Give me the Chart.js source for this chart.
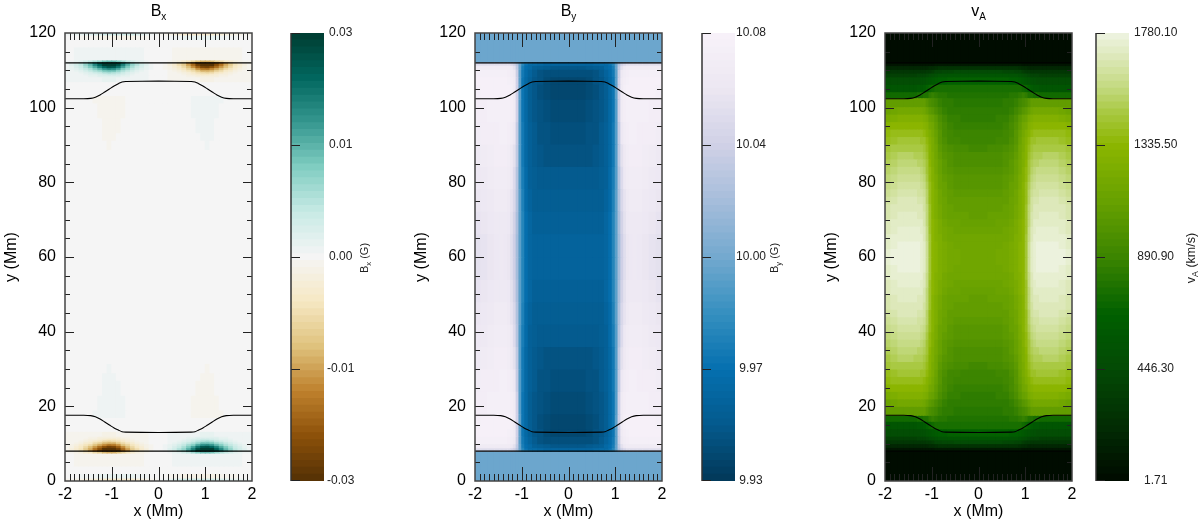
<!DOCTYPE html>
<html><head><meta charset="utf-8">
<script src="https://cdn.jsdelivr.net/npm/chart.js@4"></script>
<style>html,body{margin:0;padding:0;background:#fff;width:1200px;height:524px;overflow:hidden}canvas{position:absolute;top:0}</style>
</head><body>
<canvas id="h1" width="270" height="524" style="left:0"></canvas>
<canvas id="c1" width="110" height="524" style="left:280px"></canvas>
<canvas id="h2" width="270" height="524" style="left:410px"></canvas>
<canvas id="c2" width="110" height="524" style="left:691px"></canvas>
<canvas id="h3" width="270" height="524" style="left:820px"></canvas>
<canvas id="c3" width="115" height="524" style="left:1085px"></canvas>
<script>
// ---- contours (Mm)
const contourX=[-2,-1.6,-1.45,-1.35,-1.25,-1.15,-1.05,-.95,-.85,-.78,-.7,0,.7,.78,.85,.95,1.05,1.15,1.25,1.35,1.45,1.6,2];
const contourTop=[102.4,102.4,102.5,102.8,103.4,104.2,105,105.8,106.5,106.9,107,107.1,107,106.9,106.5,105.8,105,104.2,103.4,102.8,102.5,102.4,102.4];
const contourBottom=[17.6,17.6,17.5,17.2,16.6,15.8,15,14.2,13.6,13.2,13.1,13,13.1,13.2,13.6,14.2,15,15.8,16.6,17.2,17.5,17.6,17.6];
const boundaryX=[-2,2];
const boundaryTop=[112,112];
const boundaryBottom=[8,8];
// ---- axis ticks
const xMajor=[-2,-1,0,1,2];
const yMajor=[0,20,40,60,80,100,120];
// ---- Bx (G): upper-left quadrant, read column by column from x=0 outward, row by row from y=60 upward
const bxColumns=[.05,.15,.25,.35,.45,.55,.65,.75,.85,.95,1.05,1.15,1.25,1.35,1.45,1.55,1.65,1.75,1.85,1.95];
const bxRowEdges=[60,88.5,91,93,97,101,103,106.7,108,108.5,109,109.5,110,110.5,111,111.5,112,112.5,116,118,119.2,120];
const bxRows=[
[0,0,0,0,0,0,0,0,0,0,0,0,0,0,0,0,0,0,0,0],
[0,0,0,0,0,0,0,0,0,0,-.0006,0,0,0,0,0,0,0,0,0],
[0,0,0,0,0,0,0,0,0,-.0008,-.0008,-.0008,0,0,0,0,0,0,0,0],
[0,0,0,0,0,0,0,0,-.0008,-.0008,-.0008,-.0008,0,0,0,0,0,0,0,0],
[0,0,0,0,0,0,0,-.0008,-.0008,-.0008,-.0008,-.0008,-.0008,0,0,0,0,0,0,0],
[0,0,0,0,0,0,0,-.0008,-.0008,-.0008,-.0008,-.0008,-.0008,-.0008,0,0,0,0,0,0],
[0,0,0,0,0,0,0,0,0,0,0,0,0,0,0,0,0,0,0,0],
[0,0,.0007,.0008,.0009,.0009,.001,.0011,.0013,.0015,.0015,.0014,.0012,.0011,.001,.0009,.0009,.0008,.0008,.0007],
[0,.0002,.0007,.0009,.001,.0012,.0015,.002,.0026,.0031,.0032,.0029,.0024,.0019,.0014,.001,.001,.0009,.0008,.0006],
[0,.0002,.0007,.001,.0012,.0018,.0025,.0034,.0045,.0053,.0055,.005,.0041,.0032,.0024,.0017,.0012,.0009,.0007,.0005],
[0,.0003,.0008,.0013,.002,.0029,.0041,.0056,.0074,.0087,.009,.0081,.0067,.0052,.0039,.0028,.0019,.0012,.0008,.0005],
[0,.0004,.0011,.002,.0031,.0045,.0063,.0087,.0115,.0136,.014,.0126,.0104,.0081,.006,.0043,.0029,.0018,.0011,.0006],
[0,.0006,.0016,.0028,.0044,.0064,.009,.0124,.0164,.0194,.02,.018,.0148,.0116,.0086,.0062,.0042,.0026,.0016,.0008],
[0,.0008,.0022,.0038,.0059,.0086,.0122,.0167,.0221,.0262,.027,.0243,.02,.0157,.0116,.0084,.0057,.0035,.0022,.0011],
[0,.001,.0026,.0046,.0073,.0106,.0149,.0205,.0271,.032,.033,.0297,.0244,.0191,.0142,.0102,.0069,.0043,.0026,.0013],
[0,.0011,.0029,.005,.0079,.0115,.0162,.0223,.0295,.0349,.036,.0324,.0266,.0209,.0155,.0112,.0076,.0047,.0029,.0014],
[0,.0004,.001,.0018,.003,.0045,.0064,.0088,.0116,.0138,.0142,.0128,.0105,.0082,.006,.0044,.003,.0018,.0011,.0006],
[0,0,0,.0006,.0008,.0008,.0008,.0008,.0008,.0008,.0008,.0008,.0008,.0008,.0008,.0008,.0008,.0006,0,0],
[0,0,0,0,0,0,0,0,0,0,0,0,0,0,0,0,0,0,0,0],
[0,0,-.0006,-.001,-.0012,-.0015,-.0015,-.0015,-.0015,-.0015,-.0015,-.0015,-.0015,-.0012,-.001,-.0008,-.0006,0,0,0],
[.0005,.001,.002,.003,.004,.005,.005,.005,.005,.005,.005,.005,.004,.004,.003,.003,.002,.002,.001,.001]
];
// ---- By (G): same quadrant
const byColumns=[.1,.3,.45,.6,.72,.82,.9,.97,1.03,1.09,1.15,1.21,1.27,1.34,1.42,1.52,1.65,1.8,1.95];
const byRowEdges=[60,66,72,78,84,90,96,102,106,108,110,111,111.5,112,120];
const byRows=[
[9.957,9.957,9.956,9.956,9.957,9.959,9.966,9.98,9.998,10.024,10.042,10.054,10.06,10.063,10.064,10.063,10.061,10.058,10.055],
[9.955,9.955,9.954,9.954,9.955,9.958,9.965,9.979,9.998,10.026,10.045,10.056,10.062,10.065,10.066,10.065,10.063,10.06,10.057],
[9.952,9.952,9.951,9.951,9.953,9.956,9.964,9.977,9.997,10.028,10.048,10.059,10.065,10.068,10.068,10.067,10.065,10.063,10.06],
[9.949,9.949,9.949,9.949,9.951,9.955,9.963,9.975,9.996,10.03,10.051,10.062,10.068,10.07,10.07,10.069,10.068,10.066,10.063],
[9.946,9.946,9.946,9.947,9.95,9.955,9.962,9.973,9.995,10.034,10.056,10.066,10.07,10.072,10.072,10.071,10.07,10.068,10.066],
[9.943,9.943,9.944,9.945,9.949,9.954,9.961,9.972,9.996,10.038,10.062,10.07,10.073,10.074,10.074,10.073,10.072,10.071,10.07],
[9.941,9.941,9.942,9.944,9.948,9.953,9.96,9.97,9.996,10.042,10.067,10.073,10.075,10.075,10.075,10.075,10.074,10.073,10.072],
[9.939,9.939,9.94,9.943,9.947,9.953,9.96,9.97,9.997,10.042,10.068,10.074,10.076,10.076,10.076,10.076,10.076,10.076,10.075],
[9.939,9.939,9.94,9.944,9.948,9.954,9.961,9.971,9.998,10.042,10.067,10.073,10.075,10.076,10.076,10.076,10.076,10.076,10.076],
[9.942,9.942,9.943,9.946,9.95,9.956,9.963,9.973,9.999,10.04,10.064,10.07,10.073,10.074,10.074,10.074,10.074,10.074,10.074],
[9.948,9.948,9.949,9.951,9.955,9.96,9.966,9.976,10,10.036,10.056,10.064,10.067,10.068,10.068,10.068,10.068,10.068,10.068],
[9.956,9.956,9.956,9.958,9.96,9.962,9.968,9.98,10,10.03,10.045,10.052,10.055,10.056,10.056,10.056,10.056,10.056,10.056],
[9.968,9.968,9.968,9.97,9.972,9.975,9.98,9.985,10,10.02,10.032,10.038,10.04,10.04,10.04,10.04,10.04,10.04,10.04],
[10.003,10.003,10.003,10.003,10.003,10.003,10.003,10.003,10.003,10.003,10.003,10.003,10.003,10.003,10.003,10.003,10.003,10.003,10.003]
];
// ---- vA (km/s): same quadrant
const vaColumns=byColumns;
const vaRowEdges=[60,62,64,66,68,70,72,74,76,78,80,82,84,86,88,90,92,94,96,98,100,102.4,104,106,108,109,110,111,112,120];
const vaRows=[
[1175,1177,1180,1190,1214,1245,1291,1330,1440,1594,1704,1748,1762,1766,1768,1770,1767,1755,1730],
[1170,1172,1175,1186,1210,1241,1289,1328,1437,1590,1699,1743,1757,1761,1763,1765,1762,1750,1725],
[1160,1162,1165,1177,1201,1234,1284,1325,1431,1580,1686,1729,1742,1746,1748,1750,1747,1735,1710],
[1145,1147,1150,1163,1189,1224,1276,1320,1424,1569,1673,1714,1727,1731,1733,1735,1732,1720,1695],
[1120,1122,1125,1140,1169,1208,1266,1315,1416,1558,1659,1700,1712,1716,1718,1720,1717,1705,1680],
[1095,1097,1100,1117,1149,1192,1256,1310,1409,1547,1646,1685,1697,1701,1703,1705,1702,1690,1665],
[1085,1087,1090,1107,1140,1184,1250,1305,1401,1536,1632,1671,1682,1686,1688,1690,1687,1675,1650],
[1070,1072,1075,1093,1128,1174,1243,1300,1394,1525,1619,1656,1667,1671,1673,1675,1672,1660,1635],
[1055,1057,1060,1079,1115,1163,1235,1295,1384,1508,1597,1632,1642,1646,1648,1650,1647,1635,1610],
[1035,1037,1040,1061,1099,1150,1226,1290,1374,1491,1575,1608,1617,1621,1623,1625,1622,1610,1585],
[1015,1017,1020,1042,1081,1134,1214,1280,1360,1472,1552,1584,1592,1596,1598,1600,1597,1585,1560],
[1000,1002,1005,1027,1068,1122,1203,1270,1345,1450,1525,1555,1562,1566,1568,1570,1567,1555,1530],
[980,982,985,1008,1050,1106,1190,1260,1330,1428,1498,1526,1532,1536,1538,1540,1537,1525,1500],
[960,962,965,989,1031,1088,1174,1245,1311,1404,1470,1497,1502,1506,1508,1510,1507,1495,1470],
[930,932,935,960,1005,1065,1155,1230,1291,1377,1438,1463,1467,1471,1473,1475,1472,1460,1435],
[900,902,905,931,978,1040,1133,1210,1266,1345,1401,1424,1427,1431,1433,1435,1432,1420,1395],
[880,882,885,911,958,1020,1113,1190,1241,1313,1364,1385,1387,1391,1393,1395,1392,1380,1355],
[860,862,865,890,935,995,1085,1160,1205,1268,1313,1331,1332,1336,1338,1340,1337,1325,1300],
[845,847,850,872,911,964,1044,1110,1150,1206,1246,1262,1262,1266,1268,1270,1267,1255,1230],
[825,827,830,845,874,913,971,1020,1062,1122,1164,1182,1182,1186,1188,1190,1187,1175,1150],
[810,812,815,824,845,873,915,950,985,1034,1069,1083,1082,1086,1088,1090,1087,1080,1070],
[780,782,785,790,800,815,835,850,830,790,770,755,745,740,735,730,730,730,725],
[745,745,748,750,752,750,745,725,700,660,625,600,585,575,570,565,565,565,565],
[660,660,660,660,655,645,625,590,555,530,510,495,485,480,478,475,475,475,475],
[560,560,560,555,548,535,505,475,440,415,400,390,385,380,378,375,375,375,375],
[440,440,440,435,425,410,385,355,325,305,295,290,285,282,280,280,280,280,280],
[270,270,270,268,260,250,230,210,195,185,180,175,172,170,170,170,170,170,170],
[105,105,105,103,100,95,88,80,74,70,68,66,65,65,65,65,65,65,65],
[12,12,12,12,12,12,12,12,12,12,12,12,12,12,12,12,12,12,12]
];
// ---- colour bars
const bxRange=[-.03,.03], byRange=[9.93,10.08], vaRange=[1.71,1780.1];
const bxTickValues=[-.03,-.015,0,.015,.03], bxTickLabels=['-0.03','-0.01','0.00','0.01','0.03'];
const byTickValues=[9.93,9.9675,10.005,10.0425,10.08], byTickLabels=['9.93','9.97','10.00','10.04','10.08'];
const vaTickValues=[1.71,446.3,890.9,1335.5,1780.1], vaTickLabels=['1.71','446.30','890.90','1335.50','1780.10'];
const levelCount=65;
const bxRamp=[[0,'#543005'],[.1,'#8c510a'],[.2,'#bf812d'],[.3,'#dfc27d'],[.4,'#f6e8c3'],[.5,'#f5f5f5'],[.6,'#c7eae5'],[.7,'#80cdc1'],[.8,'#35978f'],[.9,'#01665e'],[1,'#003c30']];
const byRamp=[[0,'#023858'],[.125,'#045a8d'],[.25,'#0570b0'],[.375,'#3690c0'],[.5,'#74a9cf'],[.625,'#a6bddb'],[.75,'#d0d1e6'],[.875,'#ece7f2'],[1,'#f8f2f9']];
const vaRamp=[[0,'#000a00'],[.12,'#022c03'],[.25,'#034a05'],[.37,'#005f00'],[.5,'#3c8500'],[.62,'#66a000'],[.75,'#8cb600'],[.82,'#a8c840'],[.875,'#c2d97e'],[.94,'#dbe7b5'],[1,'#eff4e3']];

function hex(c){return [1,3,5].map(i=>parseInt(c.substr(i,2),16));}
function rampColor(ramp,t){
  for(let i=1;i<ramp.length;i++){
    if(t<=ramp[i][0]){
      const a=ramp[i-1],b=ramp[i],f=(t-a[0])/(b[0]-a[0]),p=hex(a[1]),q=hex(b[1]);
      return 'rgb('+p.map((u,k)=>Math.round(u+(q[k]-u)*f)).join(',')+')';
    }
  }
  return ramp[ramp.length-1][1];
}
function levelColor(v,range,ramp){
  const t=(v-range[0])/(range[1]-range[0]);
  const l=Math.max(0,Math.min(levelCount-1,Math.floor(t*levelCount)));
  return rampColor(ramp,(l+.5)/levelCount);
}
const FONT='"Liberation Sans",Arial,sans-serif';

function cellDatasets(cols,edges,rows,sign,range,ramp){
  const xs=[...cols].reverse().map(x=>-x).concat(cols);
  const out=[];
  rows.forEach((row,r)=>{
    const y0=edges[r],y1=edges[r+1];
    const left=[...row].reverse(),right=row;
    const top=left.concat(right.map(v=>sign*v));
    const bottom=left.map(v=>sign*v).concat(right);
    [[y0,y1,top],[120-y1,120-y0,bottom]].forEach(([a,b,vals])=>{
      out.push({type:'bar',order:5,stack:'cells',barThickness:'flex',categoryPercentage:1,barPercentage:1,
        inflateAmount:.5,borderWidth:0,
        data:xs.map(x=>({x:x,y:[a,b]})),
        backgroundColor:vals.map(v=>levelColor(v,range,ramp))});
    });
  });
  return out;
}
function lineDataset(xs,ys){
  return {type:'line',order:1,data:xs.map((x,i)=>({x:x,y:ys[i]})),borderColor:'#000',borderWidth:1.1,pointRadius:0,tension:.25,fill:false};
}
const frameTicks={id:'frameTicks',afterDatasetsDraw(chart){
  const {ctx,chartArea:a,scales:{x,y}}=chart;
  ctx.save();
  ctx.strokeStyle='#222';ctx.lineWidth=1;
  const seg=(x0,y0,x1,y1)=>{ctx.beginPath();ctx.moveTo(x0,y0);ctx.lineTo(x1,y1);ctx.stroke();};
  for(let i=1;i<40;i++){
    const v=-2+i/10;
    const major=xMajor.some(m=>Math.abs(m-v)<1e-6);
    const p=Math.round(x.getPixelForValue(v))+.5,l=major?14:7;
    seg(p,a.bottom,p,a.bottom-l);seg(p,a.top,p,a.top+l);
  }
  for(let v=5;v<120;v+=5){
    const p=Math.round(y.getPixelForValue(v))+.5,l=yMajor.includes(v)?9:5;
    seg(a.left,p,a.left+l,p);seg(a.right,p,a.right-l,p);
  }
  ctx.strokeStyle='#444';ctx.lineWidth=1.5;
  ctx.strokeRect(a.left,a.top,a.right-a.left,a.bottom-a.top);
  ctx.restore();
}};
function titlePlugin(main,sub){return {id:'panelTitle',afterDraw(chart){
  const {ctx,chartArea:a}=chart;
  ctx.save();ctx.fillStyle='#000';ctx.textBaseline='alphabetic';ctx.textAlign='left';
  ctx.font='16px '+FONT;const w=ctx.measureText(main).width;
  ctx.font='10px '+FONT;const s=ctx.measureText(sub).width;
  const x0=(a.left+a.right)/2-(w+s)/2;
  ctx.font='16px '+FONT;ctx.fillText(main,x0,15.5);
  ctx.font='10px '+FONT;ctx.fillText(sub,x0+w,20);
  ctx.restore();
}};}
function heat(id,datasets,main,sub){
  new Chart(document.getElementById(id),{type:'bar',
    data:{datasets:[...datasets,
      lineDataset(contourX,contourTop),lineDataset(contourX,contourBottom),
      lineDataset(boundaryX,boundaryTop),lineDataset(boundaryX,boundaryBottom)]},
    plugins:[frameTicks,titlePlugin(main,sub)],
    options:{responsive:false,animation:false,events:[],devicePixelRatio:1,
      layout:{padding:{top:33,right:18,left:0,bottom:0}},
      plugins:{legend:{display:false},tooltip:{enabled:false},title:{display:false}},
      scales:{
        x:{type:'linear',offset:false,min:-2,max:2,grid:{display:false,drawTicks:false},border:{display:false},
          ticks:{stepSize:1,padding:4,color:'#000',font:{family:FONT,size:16},maxRotation:0,autoSkip:false},
          title:{display:true,text:'x (Mm)',color:'#000',font:{family:FONT,size:16},padding:{top:0,bottom:3}},
          afterFit(s){s.height=43;}},
        y:{type:'linear',stacked:false,min:0,max:120,grid:{display:false,drawTicks:false},border:{display:false},
          ticks:{stepSize:20,padding:9,color:'#000',font:{family:FONT,size:16},autoSkip:false},
          title:{display:true,text:'y (Mm)',color:'#000',font:{family:FONT,size:16},padding:{top:2,bottom:0}},
          afterFit(s){s.width=65;}}
      }}});
}
function cbTitle(main,sub,rest,cx,size){return {id:'cbTitle',afterDraw(chart){
  const ctx=chart.ctx,small=size*.7;
  ctx.save();ctx.fillStyle='#222';ctx.textBaseline='alphabetic';ctx.textAlign='left';
  ctx.font=size+'px '+FONT;const a=ctx.measureText(main).width,c=ctx.measureText(rest).width;
  ctx.font=small+'px '+FONT;const b=ctx.measureText(sub).width;
  ctx.translate(cx,258);ctx.rotate(-Math.PI/2);
  const x0=-(a+b+c)/2;
  ctx.font=size+'px '+FONT;ctx.fillText(main,x0,0);ctx.fillText(rest,x0+a+b,0);
  ctx.font=small+'px '+FONT;ctx.fillText(sub,x0+a,3);
  ctx.restore();
}};}
const cbFrame={id:'cbFrame',afterDatasetsDraw(chart){
  const {ctx,chartArea:a,scales:{y}}=chart;
  ctx.save();ctx.strokeStyle='#222';ctx.lineWidth=1;
  y.ticks.forEach(t=>{const p=Math.min(a.bottom-.5,Math.max(a.top+.5,Math.round(y.getPixelForValue(t.value))+.5));
    ctx.beginPath();ctx.moveTo(a.left,p);ctx.lineTo(a.left+9,p);ctx.stroke();});
  ctx.lineWidth=1.5;ctx.strokeStyle='#333';ctx.beginPath();ctx.moveTo(a.left,a.top);ctx.lineTo(a.left,a.bottom);ctx.stroke();
  ctx.restore();
}};
function colorbar(id,range,ramp,tickValues,tickLabels,pad,titleP){
  const sets=[];
  for(let l=0;l<levelCount;l++){
    const lo=range[0]+(range[1]-range[0])*l/levelCount,hi=range[0]+(range[1]-range[0])*(l+1)/levelCount;
    sets.push({grouped:false,categoryPercentage:1,barPercentage:1,inflateAmount:.4,borderWidth:0,
      data:[[lo,hi]],backgroundColor:rampColor(ramp,(l+.5)/levelCount)});
  }
  new Chart(document.getElementById(id),{type:'bar',data:{labels:['scale'],datasets:sets},
    plugins:[cbFrame,titleP],
    options:{responsive:false,animation:false,events:[],devicePixelRatio:1,
      layout:{padding:{top:33,bottom:43,left:11,right:0}},
      plugins:{legend:{display:false},tooltip:{enabled:false}},
      scales:{
        x:{display:false},
        y:{position:'right',min:range[0],max:range[1],grid:{display:false,drawTicks:false},border:{display:false},
          afterBuildTicks(s){s.ticks=tickValues.map(v=>({value:v}));},
          ticks:{padding:pad,crossAlign:'center',autoSkip:false,color:'#222',font:{family:FONT,size:12},
            callback:(v,i)=>tickLabels[i]},
          afterFit(s){s.width=s.chart.width-11-33;}}
      }}});
}
heat('h1',cellDatasets(bxColumns,bxRowEdges,bxRows,-1,bxRange,bxRamp),'B','x');
heat('h2',cellDatasets(byColumns,byRowEdges,byRows,1,byRange,byRamp),'B','y');
heat('h3',cellDatasets(vaColumns,vaRowEdges,vaRows,1,vaRange,vaRamp),'v','A');
colorbar('c1',bxRange,bxRamp,bxTickValues,bxTickLabels,3,cbTitle('B','x',' (G)',88,11));
colorbar('c2',byRange,byRamp,byTickValues,byTickLabels,1,cbTitle('B','y',' (G)',87,11));
colorbar('c3',vaRange,vaRamp,vaTickValues,vaTickLabels,5,cbTitle('v','A',' (km/s)',110,12.5));
</script>
</body></html>
